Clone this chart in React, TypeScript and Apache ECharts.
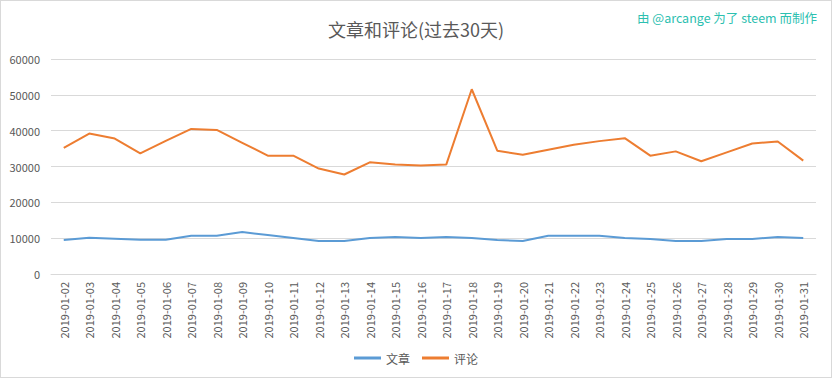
import React, { useEffect, useRef } from "react";
import * as echarts from "echarts";

const dates = [
  "2019-01-02", "2019-01-03", "2019-01-04", "2019-01-05", "2019-01-06", "2019-01-07",
  "2019-01-08", "2019-01-09", "2019-01-10", "2019-01-11", "2019-01-12", "2019-01-13",
  "2019-01-14", "2019-01-15", "2019-01-16", "2019-01-17", "2019-01-18", "2019-01-19",
  "2019-01-20", "2019-01-21", "2019-01-22", "2019-01-23", "2019-01-24", "2019-01-25",
  "2019-01-26", "2019-01-27", "2019-01-28", "2019-01-29", "2019-01-30", "2019-01-31",
];

const articles = [
  9500, 10130, 9860, 9580, 9580, 10690, 10690, 11700, 10880, 10050, 9220, 9220,
  10050, 10320, 10050, 10320, 10050, 9500, 9220, 10690, 10690, 10690, 10050, 9780,
  9220, 9220, 9780, 9780, 10320, 10050,
];

const comments = [
  35200, 39200, 37800, 33660, 37170, 40490, 40210, 36620, 33020, 33020, 29420, 27760,
  31170, 30530, 30250, 30530, 51560, 34400, 33300, 34680, 36060, 37080, 37910, 33020,
  34220, 31450, 33940, 36430, 36980, 31640,
];

const seriesNames = ["文章", "评论"];
const titleText = "文章和评论(过去30天)";
const creditText = "由 @arcange 为了 steem 而制作";

const FONT = "'Noto Sans CJK SC', 'Noto Sans', sans-serif";

export default function App() {
  const ref = useRef<HTMLDivElement>(null);
  useEffect(() => {
    if (!ref.current) return;
    const chart = echarts.init(ref.current, null, { renderer: "svg" });
    chart.setOption({
      animation: false,
      backgroundColor: "#ffffff",
      textStyle: { fontFamily: FONT },
      title: {
        text: titleText,
        left: "center",
        top: 14,
        textStyle: { fontSize: 18, fontWeight: "normal", color: "#595959", fontFamily: FONT },
      },
      graphic: [
        {
          type: "text",
          right: 14,
          top: 10,
          style: { text: creditText, fill: "#2cc0b0", fontSize: 12.5, fontFamily: FONT },
        },
      ],
      legend: {
        bottom: 8,
        left: "center",
        itemWidth: 27,
        itemHeight: 3,
        itemGap: 12,
        icon: "rect",
        textStyle: { fontSize: 12, color: "#595959", fontFamily: FONT },
        data: seriesNames,
      },
      grid: { left: 50, right: 15, top: 58, bottom: 103, containLabel: false },
      xAxis: {
        type: "category",
        data: dates,
        boundaryGap: true,
        axisLine: { lineStyle: { color: "#d9d9d9" } },
        axisTick: { show: false },
        axisLabel: {
          rotate: 90,
          interval: 0,
          fontSize: 11,
          color: "#595959",
          margin: 8,
          fontFamily: FONT,
        },
      },
      yAxis: {
        type: "value",
        min: 0,
        max: 60000,
        interval: 10000,
        axisLine: { show: false },
        axisTick: { show: false },
        splitLine: { lineStyle: { color: "#d9d9d9" } },
        axisLabel: {
          fontSize: 11,
          color: "#595959",
          margin: 11,
          fontFamily: FONT,
          formatter: (v: number) => String(v),
        },
      },
      series: [
        {
          name: seriesNames[0],
          type: "line",
          data: articles,
          symbol: "none",
          itemStyle: { color: "#5b9bd5" },
          lineStyle: { color: "#5b9bd5", width: 2 },
        },
        {
          name: seriesNames[1],
          type: "line",
          data: comments,
          symbol: "none",
          itemStyle: { color: "#ed7d31" },
          lineStyle: { color: "#ed7d31", width: 2 },
        },
      ],
    });
    return () => chart.dispose();
  }, []);
  return (
    <div
      style={{
        position: "fixed",
        left: 0,
        top: 0,
        width: 832,
        height: 378,
        boxSizing: "border-box",
        border: "1px solid #d9d9d9",
        background: "#fff",
      }}
    >
      <div ref={ref} style={{ width: 830, height: 376 }} />
    </div>
  );
}
